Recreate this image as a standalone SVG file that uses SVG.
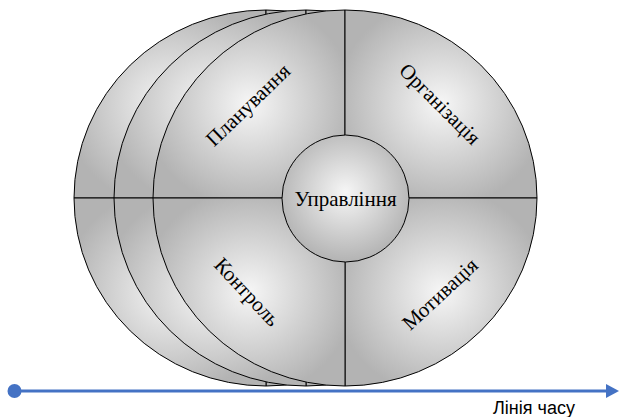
<svg xmlns="http://www.w3.org/2000/svg" width="619" height="417" viewBox="0 0 619 417">
<defs>
<radialGradient id="qg" cx="50%" cy="50%" r="55%">
<stop offset="0" stop-color="#f6f6f6"/>
<stop offset="1" stop-color="#b3b3b3"/>
</radialGradient>
<radialGradient id="cg" cx="50%" cy="45%" r="55%">
<stop offset="0" stop-color="#f6f6f6"/>
<stop offset="1" stop-color="#b3b3b3"/>
</radialGradient>
</defs>
<style>
.q{fill:url(#qg);stroke:#000;stroke-width:1}
.c{fill:url(#cg);stroke:#000;stroke-width:1}
.t{font-family:"Liberation Serif","Times New Roman",serif;font-size:21px;fill:#000;text-anchor:middle;dominant-baseline:central}
.s{font-family:"Liberation Sans",Arial,sans-serif;font-size:18px;fill:#000}
</style>
<g id="disc-back2">
<path class="q" d="M266,198 L74,198 A192,188 0 0 1 266,10 Z"/>
<path class="q" d="M266,198 L266,10 A192,188 0 0 1 458,198 Z"/>
<path class="q" d="M266,198 L458,198 A192,188 0 0 1 266,386 Z"/>
<path class="q" d="M266,198 L266,386 A192,188 0 0 1 74,198 Z"/>
</g>
<g id="disc-back1">
<path class="q" d="M306,198 L114,198 A192,188 0 0 1 306,10 Z"/>
<path class="q" d="M306,198 L306,10 A192,188 0 0 1 498,198 Z"/>
<path class="q" d="M306,198 L498,198 A192,188 0 0 1 306,386 Z"/>
<path class="q" d="M306,198 L306,386 A192,188 0 0 1 114,198 Z"/>
</g>
<g id="planning">
<path class="q" d="M345,198 L153,198 A192,188 0 0 1 345,10 Z"/>
<text class="t" transform="translate(248,105) rotate(-44)">Планування</text>
</g>
<g id="organization">
<path class="q" d="M345,198 L345,10 A192,188 0 0 1 537,198 Z"/>
<text class="t" transform="translate(440,104) rotate(45)">Організація</text>
</g>
<g id="motivation">
<path class="q" d="M345,198 L537,198 A192,188 0 0 1 345,386 Z"/>
<text class="t" transform="translate(440,294) rotate(-43)">Мотивація</text>
</g>
<g id="control">
<path class="q" d="M345,198 L345,386 A192,188 0 0 1 153,198 Z"/>
<text class="t" transform="translate(247,292) rotate(47)">Контроль</text>
</g>
<g id="management">
<circle class="c" cx="345.5" cy="198.5" r="63.5"/>
<text class="t" x="345.5" y="198.5">Управління</text>
</g>
<g id="connectors">
<line x1="15" y1="391" x2="606" y2="391" stroke="#4472c4" stroke-width="3"/>
<circle cx="14.5" cy="391" r="7" fill="#4472c4"/>
<path d="M606,384 L619,391 L606,398 Z" fill="#4472c4"/>
</g>
<g id="timeline-label">
<text class="s" x="493" y="414">Лінія часу</text>
</g>
</svg>
